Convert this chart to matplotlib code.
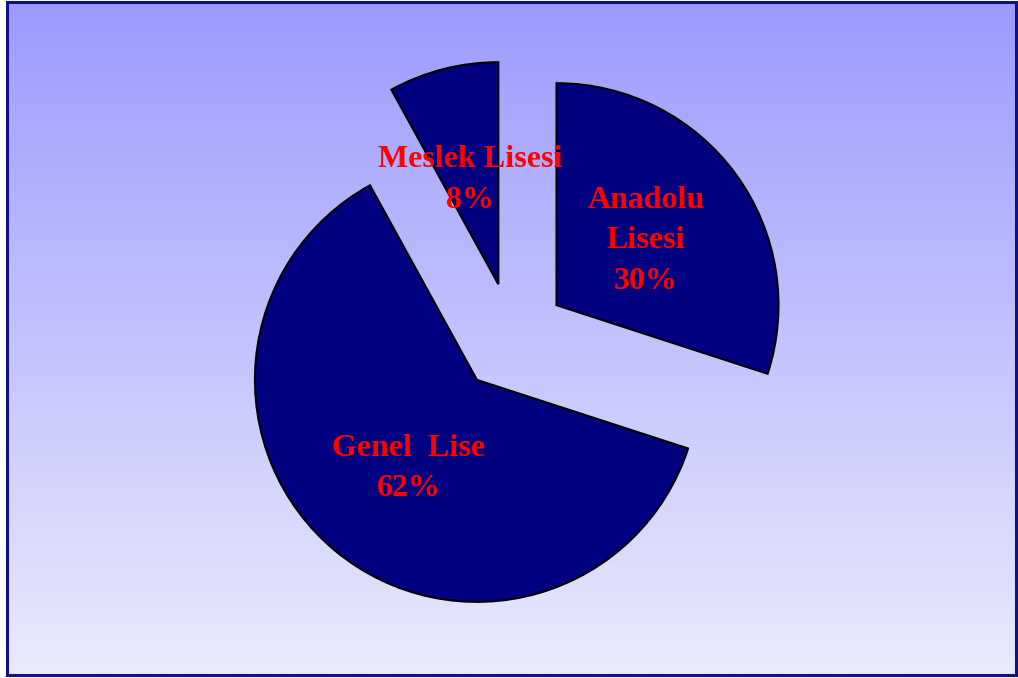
import numpy as np
import matplotlib.pyplot as plt
from matplotlib.patches import Rectangle

# Data
labels = ['Anadolu\nLisesi', 'Genel  Lise', 'Meslek Lisesi']
shares = [30, 62, 8]

W, H = 1018, 678
fig = plt.figure(figsize=(W / 100, H / 100), dpi=100)
fig.patch.set_facecolor('white')
ax = fig.add_axes([0, 0, 1, 1])

# vertical gradient background inside the frame
top = np.array([155, 155, 255]) / 255
bot = np.array([234, 234, 252]) / 255
t = np.linspace(0, 1, 256)[:, None]
grad = (top * (1 - t) + bot * t)[:, None, :]
ax.imshow(grad, extent=[7, 1017, H - 674, H - 1], aspect='auto',
          origin='upper', zorder=0)
ax.add_patch(Rectangle((7.5, H - 674.5), 1009, 673, fill=False,
                       edgecolor='#10108a', linewidth=2.2, zorder=1))

# pie (one unit = one pixel)
wedges, _ = ax.pie(shares, startangle=90, counterclock=False,
                   explode=[55] * len(shares), radius=222,
                   center=(512, H - 337.5), colors=['#000080'] * len(shares),
                   wedgeprops=dict(edgecolor='black', linewidth=1.5))
for w in wedges:
    w.set_zorder(2)

# label layout: x centre and first baseline (pixels from top)
label_pos = [(646, 208), (409, 456), (470, 167)]
for lab, val, (px, py) in zip(labels, shares, label_pos):
    lines = lab.split('\n') + [f'{val}%']
    for k, line in enumerate(lines):
        ax.text(px, H - (py + k * 40.5), line, ha='center', va='baseline',
                color='#ff0000', fontsize=23, fontweight='bold',
                family='Liberation Serif', zorder=3)

ax.set_xlim(0, W)
ax.set_ylim(0, H)
ax.set_aspect('auto')
ax.axis('off')

fig.savefig('out.png', dpi=100)
